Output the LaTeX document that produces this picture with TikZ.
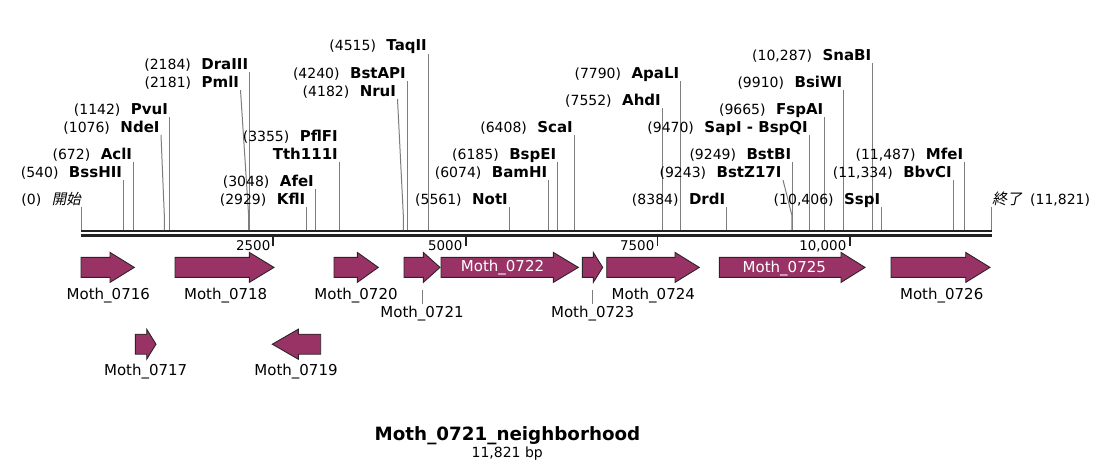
\documentclass[tikz,border=0pt]{standalone}
\usepackage{fontspec}
\setmainfont{DejaVu Sans}
\newfontfamily\cjkfont[FakeSlant=0.2]{Noto Sans CJK JP}
\definecolor{genefill}{RGB}{153,51,102}
\definecolor{geneedge}{RGB}{45,35,40}
\definecolor{siteline}{RGB}{125,125,125}
\definecolor{bbcol}{RGB}{34,34,34}
\tikzset{
  rlab/.style={inner sep=0pt, anchor=base east, font=\fontsize{14}{16}\selectfont},
  rline/.style={draw=siteline, line width=1pt},
  gene/.style={fill=genefill, draw=geneedge, line width=0.9pt, line join=miter},
  glab/.style={inner sep=0pt, anchor=base, font=\fontsize{15}{17}\selectfont},
  gin/.style={glab, text=white},
  tlab/.style={inner sep=0pt, anchor=base east, font=\fontsize{13.4}{15}\selectfont},
  tickmark/.style={line width=1.8pt, draw=bbcol},
  backbone/.style={draw=bbcol},
}
\newcommand\rn[1]{{\bfseries\fontsize{15}{16}\selectfont #1}}
\newcommand\gp{\hspace{10.5pt}}
\newcommand\rsite[6]{%
  \node[rlab] (L#1) at (#5-1.3,#4) {#2\gp\rn{#3}};
  \coordinate (T#1) at (#5,#4+3);
  \coordinate (M#1) at (#6,215);
  \coordinate (B#1) at (#6,230);
  \draw[rline] (T#1) -- (M#1) -- (B#1);
}
\newcommand\fgene[4]{%
  \draw[gene] (#1,#4-10) -- (#2,#4-10) -- (#2,#4-15) -- (#3,#4) -- (#2,#4+15) -- (#2,#4+10) -- (#1,#4+10) -- cycle;}
\newcommand\rgene[4]{%
  \draw[gene] (#3,#4-10) -- (#2,#4-10) -- (#2,#4-15) -- (#1,#4) -- (#2,#4+15) -- (#2,#4+10) -- (#3,#4+10) -- cycle;}
\begin{document}
\begin{tikzpicture}[x=1pt,y=-1pt]
\useasboundingbox[fill=white] (0,0) rectangle (1104,464);

% backbone
\draw[backbone, line width=2pt] (81,231) -- (991.5,231);
\draw[backbone, line width=2.5pt] (81,235.3) -- (991.5,235.3);

% ticks
\draw[tickmark] (273.3,236) -- (273.3,245.5);
\draw[tickmark] (465.7,236) -- (465.7,245.5);
\draw[tickmark] (657.5,236) -- (657.5,245.5);
\draw[tickmark] (850,236) -- (850,245.5);
\node[tlab] (k2500) at (270.5,250) {2500};
\node[tlab] (k5000) at (462.5,250) {5000};
\node[tlab] (k7500) at (654.5,250) {7500};
\node[tlab] (k10000) at (846.5,250) {10,000};

% start / end
\node[rlab] (Lstart) at (81,204) {(0)\gp{\cjkfont\fontsize{14.5}{16}\selectfont 開始}};
\coordinate (Tstart) at (81,207);
\coordinate (Bstart) at (81,230);
\draw[rline] (Tstart) -- (Bstart);
\node[rlab, anchor=base west] (Lend) at (992,204) {{\cjkfont\fontsize{15}{16}\selectfont 終了}\hspace{8pt}(11,821)};
\coordinate (Tend) at (991,207);
\coordinate (Bend) at (991,230);
\draw[rline] (Tend) -- (Bend);

% restriction sites
\rsite{BssHII}{(540)}{BssHII}{177}{123.5}{123.5}
\rsite{AclI}{(672)}{AclI}{159}{133.5}{133.5}
\rsite{NdeI}{(1076)}{NdeI}{132}{161}{164.3}
\rsite{PvuI}{(1142)}{PvuI}{114}{169.5}{169.5}
\rsite{PmlI}{(2181)}{PmlI}{87}{240.5}{248.6}
\rsite{DraIII}{(2184)}{DraIII}{69}{249.6}{249.6}
\rsite{KflI}{(2929)}{KflI}{204}{306.7}{306.7}
\rsite{AfeI}{(3048)}{AfeI}{186}{315.3}{315.3}
\rsite{Tth}{}{Tth111I}{159}{339.3}{339.3}
\node[rlab] (LPflFI) at (338,141) {(3355)\gp\rn{PflFI}};
\rsite{NruI}{(4182)}{NruI}{96}{397.5}{403.3}
\rsite{BstAPI}{(4240)}{BstAPI}{78}{407.3}{407.3}
\rsite{TaqII}{(4515)}{TaqII}{50.5}{428.3}{428.3}
\rsite{NotI}{(5561)}{NotI}{204}{509.3}{509.3}
\rsite{BamHI}{(6074)}{BamHI}{177}{548.7}{548.7}
\rsite{BspEI}{(6185)}{BspEI}{159}{557.7}{557.7}
\rsite{ScaI}{(6408)}{ScaI}{132}{574.3}{574.3}
\rsite{AhdI}{(7552)}{AhdI}{105}{662.3}{662.3}
\rsite{ApaLI}{(7790)}{ApaLI}{78}{680.7}{680.7}
\rsite{DrdI}{(8384)}{DrdI}{204}{726.7}{726.7}
\rsite{BstZ}{(9243)}{BstZ17I}{177}{783}{791.8}
\rsite{BstBI}{(9249)}{BstBI}{159}{792.6}{792.6}
\rsite{SapI}{(9470)}{SapI - BspQI}{132}{809.3}{809.3}
\rsite{FspAI}{(9665)}{FspAI}{114}{824.7}{824.7}
\rsite{BsiWI}{(9910)}{BsiWI}{87}{843.7}{843.7}
\rsite{SnaBI}{(10,287)}{SnaBI}{60}{872.7}{872.7}
\rsite{SspI}{(10,406)}{SspI}{204}{881.7}{881.7}
\rsite{BbvCI}{(11,334)}{BbvCI}{177}{953.3}{953.3}
\rsite{MfeI}{(11,487)}{MfeI}{159}{964.7}{964.7}

% genes, row 1
\fgene{81}{110}{134.3}{267.4}
\fgene{175}{249.3}{274}{267.4}
\fgene{334}{357.3}{378.3}{267.4}
\fgene{404}{423.3}{440}{267.4}
\fgene{441}{553.3}{578.3}{267.4}
\fgene{582.3}{593.3}{602.7}{267.4}
\fgene{606.7}{675}{699.3}{267.4}
\fgene{719.3}{841}{865}{267.4}
\fgene{891}{965.7}{990}{267.4}
% genes, row 2
\fgene{135.3}{146.7}{156}{344.2}
\rgene{272.3}{298.3}{320.7}{344.2}

% gene labels
\node[glab] (G0716) at (108.3,299) {Moth\_0716};
\node[glab] (G0718) at (225.7,299) {Moth\_0718};
\node[glab] (G0720) at (356,299) {Moth\_0720};
\node[glab] (G0721) at (422,317.7) {Moth\_0721};
\node[gin] (G0722) at (502.5,271.7) {Moth\_0722};
\node[glab] (G0723) at (592.7,317.7) {Moth\_0723};
\node[glab] (G0724) at (653.3,299) {Moth\_0724};
\node[gin] (G0725) at (784.3,272) {Moth\_0725};
\node[glab] (G0726) at (941.7,299) {Moth\_0726};
\node[glab] (G0717) at (145.7,375.7) {Moth\_0717};
\node[glab] (G0719) at (296,375.7) {Moth\_0719};
\coordinate (a0721) at (422.5,290);
\coordinate (b0721) at (422.5,303.5);
\draw[rline] (a0721) -- (b0721);
\coordinate (a0723) at (592.3,290);
\coordinate (b0723) at (592.3,303.5);
\draw[rline] (a0723) -- (b0723);

% title
\node[inner sep=0pt, anchor=base, font=\bfseries\fontsize{18.3}{20}\selectfont] (title) at (507.5,440) {Moth\_0721\_neighborhood};
\node[inner sep=0pt, anchor=base, font=\fontsize{14}{16}\selectfont] (sub) at (507.2,457.3) {11,821 bp};
\end{tikzpicture}
\end{document}
